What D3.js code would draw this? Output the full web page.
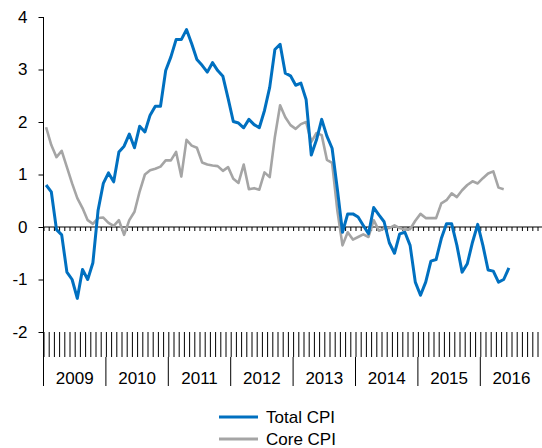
<!DOCTYPE html>
<html>
<head>
<meta charset="utf-8">
<script src="https://cdn.jsdelivr.net/npm/d3@7"></script>
<style>
html,body{margin:0;padding:0;background:#fff;}
svg{display:block;font-family:"Liberation Sans",Arial,sans-serif;}
</style>
</head>
<body>
<svg id="chart" width="542" height="448"></svg>
<script>
const years = ["2009","2010","2011","2012","2013","2014","2015","2016"];
const yTicks = [-2,-1,0,1,2,3,4];
// Monthly values starting Jan 2009
const totalCPI = [0.80,0.67,-0.05,-0.15,-0.86,-1.00,-1.36,-0.81,-1.00,-0.68,0.32,0.83,
  1.03,0.86,1.43,1.54,1.77,1.51,1.92,1.81,2.13,2.30,2.30,2.98,
  3.24,3.57,3.57,3.76,3.49,3.19,3.08,2.95,3.13,2.98,2.87,2.45,
  2.01,1.98,1.89,2.05,1.95,1.89,2.22,2.66,3.38,3.48,2.93,2.88,
  2.70,2.74,2.43,1.37,1.66,2.05,1.73,1.50,0.73,-0.10,0.25,0.25,
  0.19,0.03,-0.13,0.37,0.23,0.10,-0.30,-0.50,-0.13,-0.10,-0.35,-1.05,
  -1.30,-1.05,-0.65,-0.62,-0.22,0.06,0.06,-0.35,-0.86,-0.70,-0.29,0.05,
  -0.35,-0.82,-0.84,-1.05,-1.00,-0.78];
const coreCPI = [1.90,1.56,1.33,1.45,1.14,0.83,0.55,0.36,0.13,0.06,0.17,0.18,
  0.08,0.02,0.13,-0.15,0.13,0.29,0.68,1.00,1.08,1.11,1.15,1.27,
  1.27,1.43,0.96,1.66,1.55,1.51,1.23,1.19,1.17,1.16,1.07,1.14,
  0.92,0.84,1.19,0.72,0.74,0.71,1.04,0.95,1.72,2.32,2.09,1.94,
  1.87,1.96,2.00,1.62,1.79,1.75,1.28,1.22,0.32,-0.35,-0.10,-0.24,
  -0.19,-0.14,-0.19,0.13,-0.07,-0.03,-0.02,0.03,-0.02,-0.05,-0.04,0.12,
  0.25,0.17,0.17,0.17,0.45,0.51,0.64,0.57,0.70,0.80,0.87,0.83,
  0.93,1.02,1.06,0.75,0.72];
const seriesNames = ["Total CPI","Core CPI"];
const seriesColors = ["#0070C0","#A5A5A5"];

const svg = d3.select("#chart");
const nMonths = years.length * 12;
const x = d3.scaleLinear().domain([0, nMonths]).range([43.5, 542.7]);
const y = d3.scaleLinear().domain([-2, 4]).range([332, 17]);
const fs = 17;

// Y axis
const yAxis = d3.axisLeft(y).tickValues(yTicks).tickSize(5).tickPadding(11).tickFormat(d => String(d));
const gy = svg.append("g").attr("transform", `translate(${x(0)},0)`).call(yAxis);
gy.select(".domain").remove();
gy.selectAll("line").attr("stroke","#000");
gy.selectAll("text").attr("font-size", fs).attr("fill","#000").attr("font-family","Liberation Sans, Arial, sans-serif");
svg.append("line").attr("x1", x(0)).attr("x2", x(0)).attr("y1", y(4)).attr("y2", 386).attr("stroke","#000").attr("stroke-width",1);

// Zero line with small month ticks
const monthIdx = d3.range(0, nMonths + 1);
const g0 = svg.append("g").attr("transform", `translate(0,${y(0)})`)
  .call(d3.axisBottom(x).tickValues(monthIdx).tickSize(4).tickFormat(""));
g0.select(".domain").attr("d", `M${x(0)},0H${x(nMonths)}`).attr("stroke","#000");
g0.selectAll("line").attr("stroke","#000");

// Bottom band of month ticks
const gb = svg.append("g").attr("transform", `translate(0,${y(-2)})`)
  .call(d3.axisBottom(x).tickValues(monthIdx).tickSize(25).tickFormat(""));
gb.select(".domain").remove();
gb.selectAll("line").attr("stroke","#000");

// Year separators and labels
const yearIdx = d3.range(0, years.length + 1).map(k => k * 12);
svg.append("g").selectAll("line").data(yearIdx).join("line")
  .attr("x1", d => x(d)).attr("x2", d => x(d))
  .attr("y1", 357).attr("y2", 386).attr("stroke","#000");
svg.append("g").selectAll("text").data(years).join("text")
  .attr("x", (d,i) => x(i*12 + 6)).attr("y", 384)
  .attr("text-anchor","middle").attr("font-size", fs).attr("fill","#000")
  .text(d => d);

// Lines
const line = d3.line().x((d,i) => x(i + 0.5)).y(d => y(d));
[coreCPI, totalCPI].forEach((s, j) => {
  const k = j === 0 ? 1 : 0;
  svg.append("path").datum(s).attr("d", line)
    .attr("fill","none").attr("stroke", seriesColors[k])
    .attr("stroke-width", k === 0 ? 3 : 2.6).attr("stroke-linejoin","round");
});

// Legend
const lg = svg.append("g");
seriesNames.forEach((n, k) => {
  const ly = 417 + k * 22;
  lg.append("line").attr("x1", 219).attr("x2", 258).attr("y1", ly).attr("y2", ly)
    .attr("stroke", seriesColors[k]).attr("stroke-width", 3);
  lg.append("text").attr("x", 266).attr("y", ly + 6).attr("font-size", fs).attr("fill","#000").text(n);
});
</script>
</body>
</html>
